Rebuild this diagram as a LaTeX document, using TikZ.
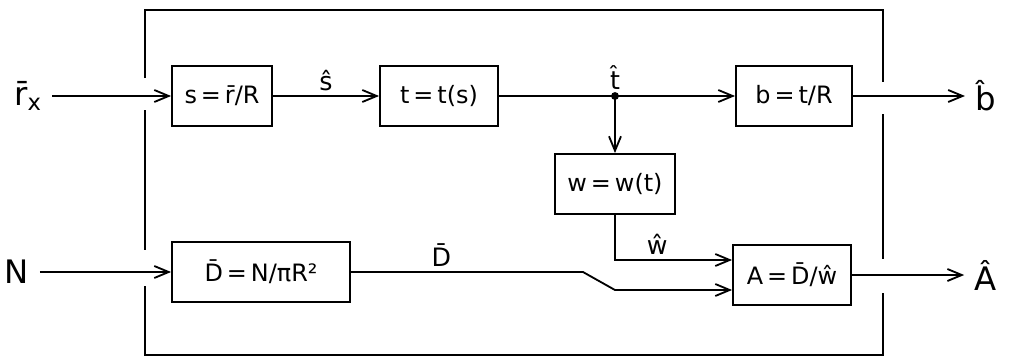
\documentclass[tikz,border=0pt]{standalone}
\usepackage{fontspec}
\setmainfont{DejaVu Sans}
\usetikzlibrary{arrows.meta,calc}

\begin{document}
\begin{tikzpicture}[
    x=0.025cm, y=-0.025cm,
    font=\fontsize{17}{20}\selectfont,
    line width=1.3pt,
    block/.style={rectangle, draw, minimum height=1.5cm, inner sep=2pt, align=center},
    arrow/.style={-{Straight Barb[length=3.6mm, width=3mm]}},
    note/.style={font=\fontsize{18}{21}\selectfont, inner sep=3pt},
    io/.style={font=\fontsize{23}{27}\selectfont, inner sep=7pt},
    frame/.style={line width=1.3pt}
]
    \useasboundingbox (0,0) rectangle (1014,363);

    % outer box, broken where the signals pass
    \draw[frame] (145,78) -- (145,10) -- (883,10) -- (883,82);
    \draw[frame] (145,110) -- (145,250);
    \draw[frame] (883,114) -- (883,259);
    \draw[frame] (145,286) -- (145,355) -- (883,355) -- (883,293);

    \node[io] (rx) at (28,96) {\=r\textsubscript{x}};
    \node[io] (nin) at (17,272) {N};
    \node[io] (bhat) at (986,96) {\^b};
    \node[io] (ahat) at (986,275) {\^A};

    \node[block, minimum width=2.5cm] (sdiv) at (222,96) {s\,=\,\=r/R};
    \node[block, minimum width=2.95cm] (tfun) at (439,96) {t\,=\,t(s)};
    \node[block, minimum width=2.9cm] (bdiv) at (794,96) {b\,=\,t/R};
    \node[block, minimum width=3cm] (wfun) at (615,184) {w\,=\,w(t)};
    \node[block, minimum width=4.45cm] (dens) at (261,272) {\=D\,=\,N/πR²};
    \node[block, minimum width=2.95cm] (area) at (792,275) {A\,=\,\=D/\^w};

    \coordinate (tsplit) at (615,96);

    \draw[arrow] (rx) -- (sdiv);
    \draw[arrow] (sdiv) -- node[note, above] (shat) {\^s} (tfun);
    \draw[arrow] (tfun) -- (bdiv);
    \fill (tsplit) circle (2.8pt);
    \node[note, above=1pt] (that) at (tsplit) {\^t};
    \draw[arrow] (tsplit) -- (wfun);
    \draw[arrow] (bdiv) -- (bhat);

    \draw[arrow] (nin) -- (dens);
    \draw[arrow] (wfun) |- node[note, above, pos=0.68] (what) {\^w} ($(area.west)+(0,-15)$);
    \draw[arrow] (dens.east) -- node[note, above, pos=0.39] (dbar) {\=D} (583,272) -- (615,290) -- ($(area.west)+(0,15)$);
    \draw[arrow] (area) -- (ahat);
\end{tikzpicture}
\end{document}
